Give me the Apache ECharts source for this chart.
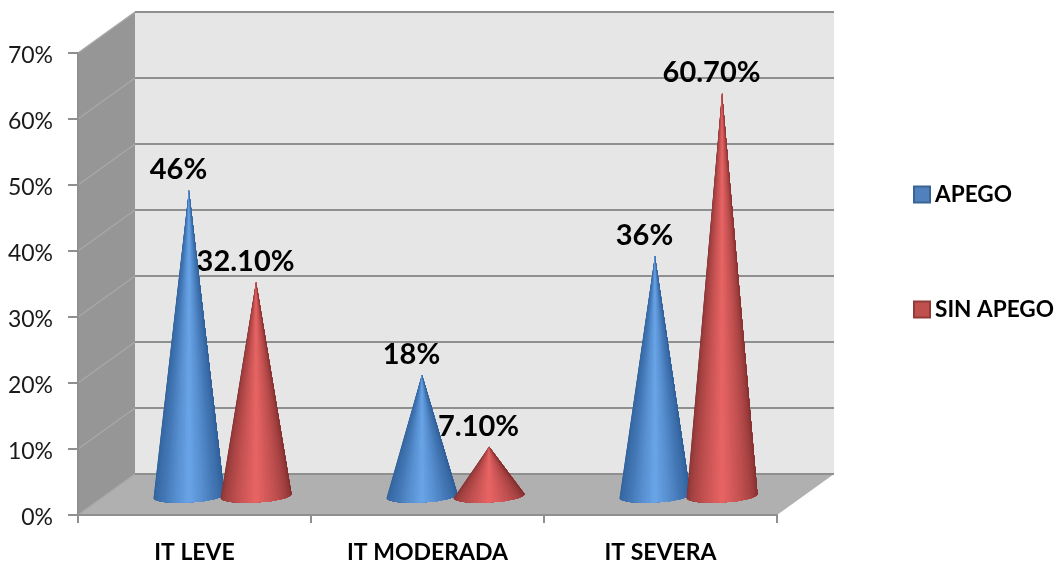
<!DOCTYPE html>
<html>
<head>
<meta charset="utf-8">
<style>
  html, body { margin: 0; padding: 0; background: #fff; }
  #chart { width: 1059px; height: 562px; }
</style>
<script src="https://cdn.jsdelivr.net/npm/echarts@6/dist/echarts.min.js"></script>
</head>
<body>
<div id="chart"></div>
<script>
// Chart values
const categories = ['IT LEVE', 'IT MODERADA', 'IT SEVERA'];
const apegoValues = [46, 18, 36];
const sinApegoValues = [32.1, 7.1, 60.7];
const apegoLabels = ['46%', '18%', '36%'];
const sinApegoLabels = ['32.10%', '7.10%', '60.70%'];
const yTicks = [0, 10, 20, 30, 40, 50, 60, 70];

// Fake-3D box: the back wall is the front plane pushed back by this much
const DEPTH_X = 57, DEPTH_Y = -41;
const FONT = 'Lato, "Open Sans", sans-serif';

// Cylinder-style shading, dark at the silhouette and bright in the middle
const blueShade = [[47, 96, 152], [66, 118, 180], [106, 165, 232], [66, 118, 180], [44, 90, 146]];
const redShade = [[128, 50, 50], [178, 72, 72], [232, 100, 100], [178, 72, 72], [122, 44, 44]];

function shadeAt(stops, t) {
  const p = t * (stops.length - 1);
  const i = Math.min(Math.floor(p), stops.length - 2);
  const f = p - i;
  const c = stops[i].map((v, k) => Math.round(v + (stops[i + 1][k] - v) * f));
  return 'rgb(' + c.join(',') + ')';
}

function wallsRenderer(params, api) {
  const r = params.coordSys;
  const left = r.x, right = r.x + r.width, bottom = r.y + r.height;
  const y = api.coord([0, api.value(1)])[1];
  const children = [];
  if (params.dataIndex === 0) {
    // back wall, side wall and floor
    children.push(
      { type: 'polygon', z2: 0, shape: { points: [[left + DEPTH_X, r.y + DEPTH_Y], [right + DEPTH_X, r.y + DEPTH_Y], [right + DEPTH_X, bottom + DEPTH_Y], [left + DEPTH_X, bottom + DEPTH_Y]] }, style: { fill: '#e6e6e6' } },
      { type: 'polygon', z2: 0, shape: { points: [[left, r.y], [left + DEPTH_X, r.y + DEPTH_Y], [left + DEPTH_X, bottom + DEPTH_Y], [left, bottom]] }, style: { fill: '#969696' } },
      { type: 'polygon', z2: 0, shape: { points: [[left, bottom], [left + DEPTH_X, bottom + DEPTH_Y], [right + DEPTH_X, bottom + DEPTH_Y], [right, bottom]] }, style: { fill: '#b0b0b0' } }
    );
  }
  // one grid line: up the side wall, then across the back wall
  children.push(
    { type: 'line', z2: 1, shape: { x1: left, y1: y, x2: left + DEPTH_X, y2: y + DEPTH_Y }, style: { stroke: '#a8a8a8', lineWidth: 1.5 } },
    { type: 'line', z2: 1, shape: { x1: left + DEPTH_X, y1: y + DEPTH_Y, x2: right + DEPTH_X, y2: y + DEPTH_Y }, style: { stroke: '#8f8f8f', lineWidth: 2 } }
  );
  return { type: 'group', children };
}

function coneRenderer(shade, side, labels, coneZ, labelZ) {
  return function (params, api) {
    const idx = api.value(0);
    const front = api.coord([idx, api.value(1)]);
    const zero = api.coord([idx, 0]);
    const bandWidth = api.size([1, 0])[0];
    const cx = front[0] + DEPTH_X / 2 + side * bandWidth * 0.144 - 0.5;
    const tipY = front[1] + DEPTH_Y / 2 - 1;
    const cy = zero[1] + DEPTH_Y / 2 + 1.5;
    const rx = bandWidth * 0.152, ry = 6.5, tilt = 2;
    const children = [];
    const N = 40;
    const rim = a => [cx + rx * Math.cos(a), cy + ry * Math.sin(a) - tilt * Math.cos(a)];
    const rimPoints = [];
    for (let k = 0; k <= N; k++) rimPoints.push(rim(Math.PI - Math.PI * k / N));
    // painted left to right, each facet overlapping everything still to its right
    for (let k = 0; k < N; k++) {
      children.push({
        type: 'polygon',
        z2: coneZ,
        shape: { points: [[cx, tipY]].concat(rimPoints.slice(k)) },
        style: { fill: shadeAt(shade, (k + 0.5) / N) }
      });
    }
    children.push({
      type: 'text',
      z2: labelZ,
      style: {
        x: cx - 10.5, y: tipY - 20,
        text: labels[idx],
        fill: '#000',
        font: 'bold 29px ' + FONT,
        align: 'center', verticalAlign: 'middle'
      }
    });
    return { type: 'group', children };
  };
}

const chart = echarts.init(document.getElementById('chart'), null, { renderer: 'canvas' });
chart.setOption({
  animation: false,
  backgroundColor: '#ffffff',
  grid: { left: 78, right: 282, top: 53, bottom: 47, outerBoundsMode: 'none' },
  legend: {
    orient: 'vertical',
    left: 908, top: 178,
    itemWidth: 16, itemHeight: 16, itemGap: 92,
    icon: 'rect',
    data: ['APEGO', 'SIN APEGO'],
    textStyle: { fontFamily: FONT, fontSize: 22.6, fontWeight: 'bold', color: '#000' }
  },
  xAxis: {
    type: 'category',
    data: categories,
    z: 6,
    axisLine: { show: true, lineStyle: { color: '#8f8f8f', width: 2 } },
    axisTick: { show: true, length: 8, lineStyle: { color: '#8f8f8f', width: 2 } },
    axisLabel: { margin: 26, fontFamily: FONT, fontSize: 23, fontWeight: 'bold', color: '#000' }
  },
  yAxis: {
    type: 'value',
    min: 0, max: 70, interval: 10,
    z: 6,
    axisLine: { show: true, lineStyle: { color: '#8f8f8f', width: 2 } },
    axisTick: { show: true, length: 10, lineStyle: { color: '#8f8f8f', width: 2 } },
    axisLabel: { margin: 25, formatter: '{value}%', fontFamily: FONT, fontSize: 23, color: '#1a1a1a', verticalAlign: 'top', lineHeight: 6 },
    splitLine: { show: false }
  },
  series: [
    {
      name: 'walls', type: 'custom', z: 1, silent: true,
      data: yTicks.map(v => [0, v]),
      encode: { x: 0, y: 1 },
      renderItem: wallsRenderer
    },
    {
      name: 'APEGO', type: 'custom', z: 3, silent: true,
      itemStyle: { color: '#4f81bd', borderColor: '#3a6496', borderWidth: 1.5 },
      data: apegoValues.map((v, i) => [i, v]),
      encode: { x: 0, y: 1 },
      renderItem: coneRenderer(blueShade, -1, apegoLabels, 2, 4)
    },
    {
      name: 'SIN APEGO', type: 'custom', z: 3, silent: true,
      itemStyle: { color: '#c0504d', borderColor: '#923b39', borderWidth: 1.5 },
      data: sinApegoValues.map((v, i) => [i, v]),
      encode: { x: 0, y: 1 },
      renderItem: coneRenderer(redShade, 1, sinApegoLabels, 3, 1)
    }
  ]
});
</script>
</body>
</html>
